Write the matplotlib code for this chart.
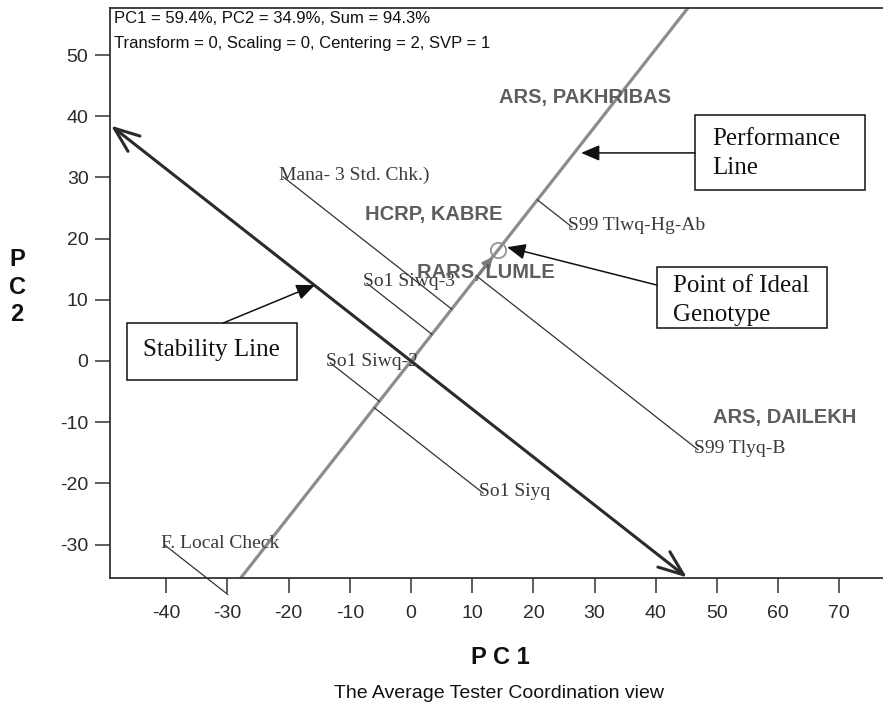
"""GGE biplot: average tester coordination view of genotypes across testers."""

import matplotlib
matplotlib.use("Agg")
import matplotlib.pyplot as plt
import numpy as np
from matplotlib.patches import Rectangle

plt.rcParams["font.family"] = ["Liberation Sans", "DejaVu Sans"]
plt.rcParams["axes.unicode_minus"] = False
SERIF = ["Liberation Serif", "DejaVu Serif"]

# genotype scores (PC1, PC2)
genotypes = ["Mana- 3 Std. Chk.)", "So1 Siwq-3", "So1 Siwq-2", "So1 Siyq",
             "F. Local Check", "S99 Tlwq-Hg-Ab", "S99 Tlyq-B"]
geno_pc1 = [-20.9, -7.2, -13.2, 11.8, -40.2, 26.3, 46.9]
geno_pc2 = [30.1, 12.7, -0.3, -21.6, -30.1, 21.9, -14.5]

# tester (environment) label positions
environments = ["ARS, PAKHRIBAS", "HCRP, KABRE", "RARS, LUMLE", "ARS, DAILEKH"]
env_pc1 = [28.4, 3.8, 12.3, 61.1]
env_pc2 = [43.1, 23.9, 14.5, -9.2]

# average environment (point of ideal genotype) and stability line extent
avg_env = (14.2, 18.1)
stability_extent = (-62.3, 57.3)

summary_lines = ["PC1 = 59.4%, PC2 = 34.9%, Sum = 94.3%",
                 "Transform = 0, Scaling = 0, Centering = 2, SVP = 1"]
x_ticks = list(range(-40, 80, 10))
y_ticks = list(range(-30, 60, 10))


def callout(ax, text, box, text_xy, arrow_from, arrow_to):
    """Boxed serif note with a filled arrow pointing at the chart."""
    x0, y0, w, h = box
    ax.add_patch(Rectangle((x0, y0), w, h, fill=False, lw=1.1,
                           edgecolor="#111", clip_on=False, zorder=5))
    ax.text(*text_xy, text, ha="left", va="center", family=SERIF,
            fontsize=18, linespacing=1.4, color="#111", zorder=5)
    ax.annotate("", xy=arrow_to, xytext=arrow_from,
                arrowprops=dict(arrowstyle="-|>,head_length=0.7,head_width=0.3",
                                color="#111", lw=1.1, mutation_scale=16,
                                shrinkA=0, shrinkB=0), zorder=5)


fig = plt.figure(figsize=(8.83, 7.11), dpi=100)
ax = fig.add_axes([110 / 883, 133 / 711, 791 / 883, 570 / 711])
ax.set_xlim(-49.18, 80.07)
ax.set_ylim(-35.46, 57.68)

u = np.array(avg_env) / np.hypot(*avg_env)
v = np.array([u[1], -u[0]])

# performance line (average tester axis)
t = np.array([-60.0, 90.0])
ax.plot(t * u[0], t * u[1], color="#8c8c8c", lw=2.3, zorder=2)

# stability line with arrows at both ends
s0, s1 = stability_extent
ax.annotate("", xy=(s1 * v[0], s1 * v[1]), xytext=(s0 * v[0], s0 * v[1]),
            arrowprops=dict(arrowstyle="<->,head_length=0.9,head_width=0.35",
                            color="#2b2b2b", lw=2.2, mutation_scale=20,
                            shrinkA=0, shrinkB=0), zorder=3)

# genotype projections onto the performance line
for name, x, y in zip(genotypes, geno_pc1, geno_pc2):
    proj = x * u[0] + y * u[1]
    ax.plot([x, proj * u[0]], [y, proj * u[1]], color="#333333", lw=0.9,
            clip_on=False, zorder=2)
    ax.annotate(name, (x, y), xytext=(-3, 1), textcoords="offset points",
                ha="left", va="center", family=SERIF, fontsize=14,
                color="#3a3a3a", zorder=4)

for name, x, y in zip(environments, env_pc1, env_pc2):
    ax.text(x, y, name, ha="center", va="center", fontsize=14.5,
            fontweight="bold", color="#5e5e5e", zorder=4)

# ideal genotype circle and the arrowhead of the tester axis
ax.plot(*avg_env, "o", ms=11, mfc="none", mec="#8c8c8c", mew=1.2, zorder=4)
r = np.hypot(*avg_env)
ax.annotate("", xy=((r - 1.4) * u[0], (r - 1.4) * u[1]),
            xytext=((r - 5) * u[0], (r - 5) * u[1]),
            arrowprops=dict(arrowstyle="-|>", color="#7a7a7a", lw=2,
                            mutation_scale=14, shrinkA=0, shrinkB=0), zorder=3)

callout(ax, "Performance\nLine", (46.4, 27.9, 27.8, 12.3), (49.2, 33.9),
        (46.4, 34.0), (27.8, 34.0))
callout(ax, "Point of Ideal\nGenotype", (40.2, 5.4, 27.8, 10.0), (42.8, 9.9),
        (40.2, 12.4), (15.7, 18.6))
callout(ax, "Stability Line", (-46.4, -3.1, 27.8, 9.3), (-43.8, 1.8),
        (-30.7, 6.2), (-15.7, 12.4))

for i, line in enumerate(summary_lines):
    ax.text(-48.6, 55.9 - 4.1 * i, line, ha="left", va="center", fontsize=12,
            color="#111")

ax.set_xticks(x_ticks)
ax.set_yticks(y_ticks)
ax.tick_params(direction="out", length=10.5, width=1.1, color="#333333",
               labelsize=14, labelcolor="#2a2a2a")
ax.tick_params(axis="x", pad=9)
ax.tick_params(axis="y", pad=5)
for side in ("left", "bottom", "top"):
    ax.spines[side].set_linewidth(1.3)
    ax.spines[side].set_color("#333333")
ax.spines["right"].set_visible(False)

fig.text(500 / 883, 1 - 658 / 711, "P C 1", ha="center", va="center",
         fontsize=17, fontweight="bold", color="#111")
fig.text(17 / 883, 1 - 287 / 711, "P\nC\n2", ha="center", va="center",
         fontsize=17, fontweight="bold", color="#111", linespacing=1.25)
fig.text(499 / 883, 1 - 693 / 711, "The Average Tester Coordination view",
         ha="center", va="center", fontsize=14, color="#111")

fig.savefig("out.png", dpi=100)
plt.close(fig)
